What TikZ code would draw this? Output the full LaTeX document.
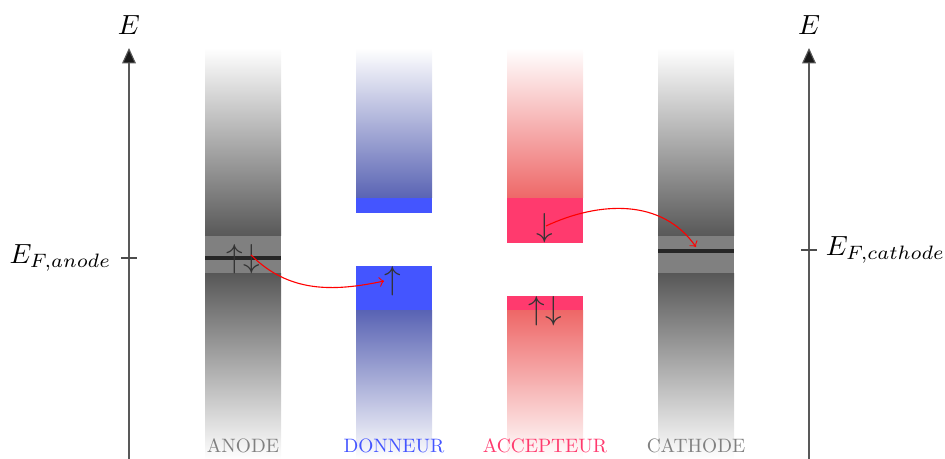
\documentclass[tikz,border=0pt]{standalone}
\usetikzlibrary{arrows.meta, positioning, calc}
\usepackage{xcolor}
\definecolor{donorblue}{RGB}{68, 85, 255}
\definecolor{donordark}{RGB}{90, 100, 180}
\definecolor{acceptred}{RGB}{255, 58, 110}
\definecolor{acceptdark}{RGB}{238, 104, 104}
\definecolor{metalgray}{RGB}{128, 128, 128}
\definecolor{metaldark}{RGB}{88, 88, 88}
\tikzstyle{axis} = [-{Triangle[length=5.6pt,width=5pt,fill=black!90]}, black!65, line width=0.4pt]
\tikzstyle{fermi} = [line width=1.1pt, black!85]
\tikzstyle{spin} = [inner sep=0pt, font=\large, text=black!80]
\tikzstyle{transfer} = [->, >=to, red, thin]
\tikzstyle{bandlabel} = [scale=0.7, transform shape]

\begin{document}
\begin{tikzpicture}[x=0.0127cm, y=0.0127cm]
\useasboundingbox (0,0) rectangle (945,459);

% Axes
\draw[axis] (129,0) -- (129,411);
\node (Eleft) at (129,434) {$E$};
\draw[black!70] (121,201) -- (137,201);
\node[left] (EFanode) at (121,201) {$E_{F,anode}$};

\draw[axis] (809,0) -- (809,411);
\node (Eright) at (809,434) {$E$};
\draw[black!70] (801,209) -- (817,209);
\node[right] (EFcathode) at (816,209) {$E_{F,cathode}$};

% Anode
\shade[top color=white, bottom color=metaldark] (205,223) rectangle (281,411);
\fill[metalgray] (205,185) rectangle (281,223);
\shade[top color=metaldark, bottom color=white] (205,0) rectangle (281,185);
\draw[fermi] (205,201) -- (281,201);

% Donneur
\shade[top color=white, bottom color=donordark] (356,261) rectangle (432,411);
\fill[donorblue] (356,246) rectangle (432,261);
\fill[donorblue] (356,148) rectangle (432,193);
\shade[top color=donordark, bottom color=white] (356,0) rectangle (432,148);

% Accepteur
\shade[top color=white, bottom color=acceptdark] (507,261) rectangle (583,411);
\fill[acceptred] (507,216) rectangle (583,261);
\fill[acceptred] (507,148) rectangle (583,163);
\shade[top color=acceptdark, bottom color=white] (507,0) rectangle (583,148);

% Cathode
\shade[top color=white, bottom color=metaldark] (658,223) rectangle (734,411);
\fill[metalgray] (658,185) rectangle (734,223);
\shade[top color=metaldark, bottom color=white] (658,0) rectangle (734,185);
\draw[fermi] (658,208) -- (734,208);
\coordinate (cathodeF) at (696,212);

% Spins
\node[spin] (anodespin) at (243,200) {$\uparrow\downarrow$};
\node[spin] (donorspin) at (393,178) {$\uparrow$};
\node[spin] (accspin) at (545,231) {$\downarrow$};
\node[spin] (accpair) at (545,148) {$\uparrow\downarrow$};

% Transfers
\draw[transfer] ($(anodespin)+(8,4)$) to[out=-45, in=192] (donorspin.west);
\draw[transfer] ($(accspin)+(1,2)$) to[out=25, in=125] (cathodeF);

% Labels
\node[bandlabel, text=metalgray] (anode) at (243,13) {ANODE};
\node[bandlabel, text=donorblue] (donneur) at (394,13) {DONNEUR};
\node[bandlabel, text=acceptred] (accepteur) at (545,13) {ACCEPTEUR};
\node[bandlabel, text=metalgray] (cathode) at (696,13) {CATHODE};
\end{tikzpicture}
\end{document}
